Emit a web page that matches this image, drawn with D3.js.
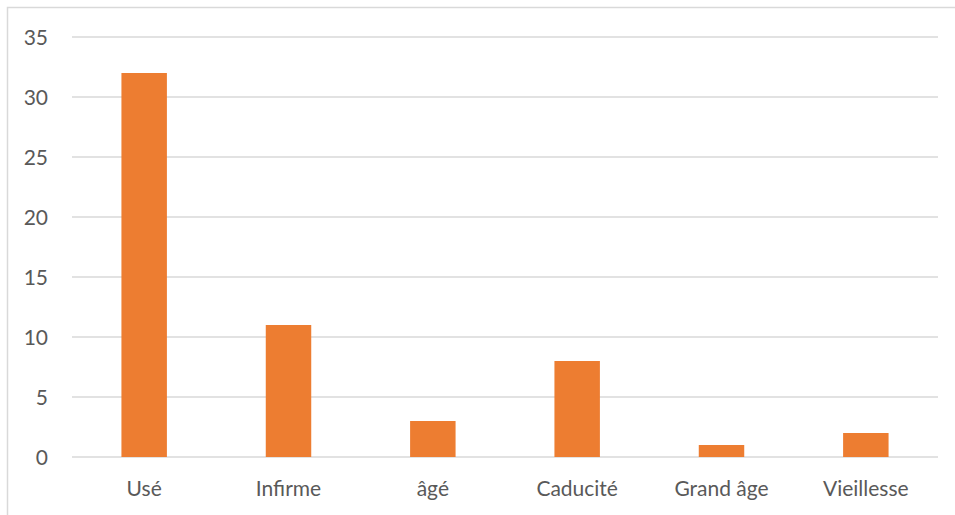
<!DOCTYPE html>
<html><head><meta charset="utf-8">
<script src="https://cdn.jsdelivr.net/npm/d3@7"></script>
<style>body{margin:0;background:#fff;}svg{display:block;}</style>
</head><body>
<script>
const categories = ["Usé", "Infirme", "âgé", "Caducité", "Grand âge", "Vieillesse"];
const values = [32, 11, 3, 8, 1, 2];
const yTicks = [0, 5, 10, 15, 20, 25, 30, 35];

const W = 955, H = 515;
const svg = d3.select("body").append("svg").attr("width", W).attr("height", H);
svg.append("rect").attr("x", 7.5).attr("y", 7.5).attr("width", W).attr("height", H)
  .attr("fill", "#fff").attr("stroke", "#d9d9d9").attr("stroke-width", 1.5);

const x = d3.scaleBand().domain(categories).range([72, 938]).paddingInner(0.685).paddingOuter(0.3425);
const y = d3.scaleLinear().domain([0, 35]).range([457, 37]);

const font = "Lato, 'Open Sans', sans-serif";
svg.append("g").selectAll("line").data(yTicks).join("line")
  .attr("x1", 72).attr("x2", 938).attr("y1", d => y(d)).attr("y2", d => y(d))
  .attr("stroke", "#d9d9d9").attr("stroke-width", 1.3);

svg.append("g").selectAll("text").data(yTicks).join("text")
  .attr("x", 48).attr("y", d => y(d)).attr("dy", "0.36em").attr("text-anchor", "end")
  .attr("font-family", font).attr("font-size", 21).attr("fill", "#595959").text(d => d);

svg.append("g").selectAll("rect").data(values).join("rect")
  .attr("x", (d, i) => x(categories[i])).attr("width", x.bandwidth())
  .attr("y", d => y(d)).attr("height", d => y(0) - y(d)).attr("fill", "#ed7d31");

svg.append("g").selectAll("text").data(categories).join("text")
  .attr("x", d => x(d) + x.bandwidth() / 2).attr("y", 496).attr("text-anchor", "middle")
  .attr("font-family", font).attr("font-size", 21).attr("fill", "#595959").text(d => d);
</script>
</body></html>
